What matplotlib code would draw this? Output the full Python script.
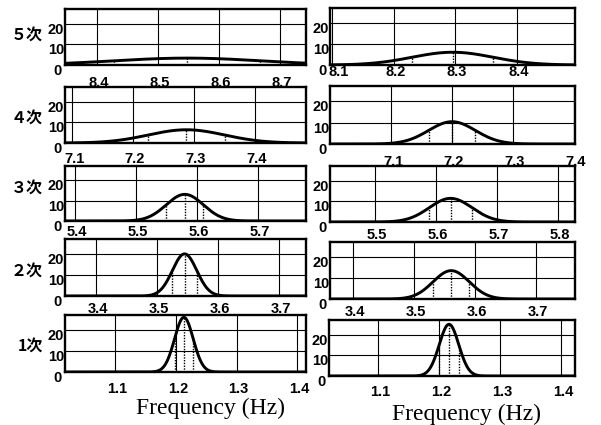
import numpy as np
import matplotlib
matplotlib.use("Agg")
import matplotlib.pyplot as plt
from matplotlib.transforms import ScaledTranslation, blended_transform_factory

# ---- data: normal distributions of the modal frequencies (mean, std) ----
orders = ["５次", "４次", "３次", "２次", "1次"]
left_mean = [8.548, 7.2875, 5.580, 3.545, 1.213]
left_std = [0.120, 0.0625, 0.0305, 0.0200, 0.0154]
right_mean = [8.296, 7.200, 5.624, 3.561, 1.216]
right_std = [0.0660, 0.0384, 0.0350, 0.0297, 0.0160]

left_ticks = [[8.4, 8.5, 8.6, 8.7], [7.1, 7.2, 7.3, 7.4], [5.4, 5.5, 5.6, 5.7],
              [3.4, 3.5, 3.6, 3.7], [1.1, 1.2, 1.3, 1.4]]
right_ticks = [[8.1, 8.2, 8.3, 8.4], [7.1, 7.2, 7.3, 7.4], [5.5, 5.6, 5.7, 5.8],
               [3.4, 3.5, 3.6, 3.7], [1.1, 1.2, 1.3, 1.4]]
y_ticks = [0, 10, 20]
x_label = "Frequency (Hz)"

# ---- layout (pixels) ----
W, H = 601, 425
left_box = [(65, 306, 9, 65), (65, 306, 87, 143), (65, 306, 166, 221),
            (65, 306, 239, 296), (65, 306, 315, 372)]
right_box = [(330, 575, 8, 65), (330, 575, 86, 144), (330, 575, 166, 222),
             (330, 575, 242, 299), (329, 575, 320, 376)]
left_xlim = [(8.3475, 8.7426), (7.0885, 7.4836), (5.3836, 5.7787),
             (3.349, 3.744), (1.0171, 1.4142)]
right_xlim = [(8.0967, 8.495), (7.0, 7.4016), (5.4262, 5.8279),
              (3.3623, 3.764), (1.0194, 1.4224)]
left_label_top = [76, 152, 225, 302, 382]
right_label_top = [65, 155, 228, 305, 385]
right_first_shift = [5, 0, 0, 0, 0]
row_label_y = [35, 118, 188, 271, 346]

TICK_FONT = dict(family="Liberation Sans", fontweight="bold", fontsize=10.5)

fig = plt.figure(figsize=(W / 100, H / 100), dpi=100)
fig.patch.set_facecolor("white")


def pdf(x, m, s):
    return np.exp(-0.5 * ((x - m) / s) ** 2) / (s * np.sqrt(2 * np.pi))


def panel(box, xlim, ticks, mean, std, label_top, first_shift=0):
    x0, x1, yt, yb = box
    ax = fig.add_axes([x0 / W, 1 - yb / H, (x1 - x0) / W, (yb - yt) / H])
    ax.set_xlim(*xlim)
    ax.set_ylim(0, 27)
    ax.set_xticks(ticks)
    ax.set_yticks([10, 20])
    ax.grid(True, color="black", lw=0.8)
    ax.tick_params(length=0, labelbottom=False, labelleft=False)
    for sp in ax.spines.values():
        sp.set_linewidth(1.7)

    xs = np.linspace(xlim[0], xlim[1], 600)
    ax.plot(xs, pdf(xs, mean, std), color="black", lw=2.1, solid_capstyle="butt")
    for v in (mean - std, mean, mean + std):
        ax.vlines(v, 0, pdf(v, mean, std), colors="black", linestyles=(0, (1, 1)), lw=1.0)

    # x tick labels
    pad = label_top - yb
    for k, t in enumerate(ticks):
        dx = 2 + (first_shift if k == 0 else 0)
        tx = blended_transform_factory(ax.transData, ax.transAxes) + \
            ScaledTranslation(dx / 100, -pad / 100, fig.dpi_scale_trans)
        ax.text(t, 0, f"{t:.1f}", transform=tx, ha="center", va="top", **TICK_FONT)

    # y tick labels
    for v in y_ticks:
        dx = -3 if v == 0 else -1
        ty = blended_transform_factory(ax.transAxes, ax.transData) + \
            ScaledTranslation(dx / 100, 1 / 100, fig.dpi_scale_trans)
        ax.text(0, v, str(v), transform=ty, ha="right", va="top", **TICK_FONT)
    return ax


for i in range(5):
    panel(left_box[i], left_xlim[i], left_ticks[i], left_mean[i], left_std[i], left_label_top[i])
    panel(right_box[i], right_xlim[i], right_ticks[i], right_mean[i], right_std[i],
          right_label_top[i], right_first_shift[i])
    fig.text(43 / W, 1 - row_label_y[i] / H, orders[i], ha="right", va="center",
             fontsize=11.5, fontweight="bold", family=["Noto Sans CJK JP", "DejaVu Sans"])

fig.text(210 / W, 1 - 414 / H, x_label, ha="center", va="baseline", fontsize=17,
         family=["Liberation Serif"])
fig.text(467 / W, 1 - 420 / H, x_label, ha="center", va="baseline", fontsize=17,
         family=["Liberation Serif"])

fig.savefig("out.png", dpi=100)
